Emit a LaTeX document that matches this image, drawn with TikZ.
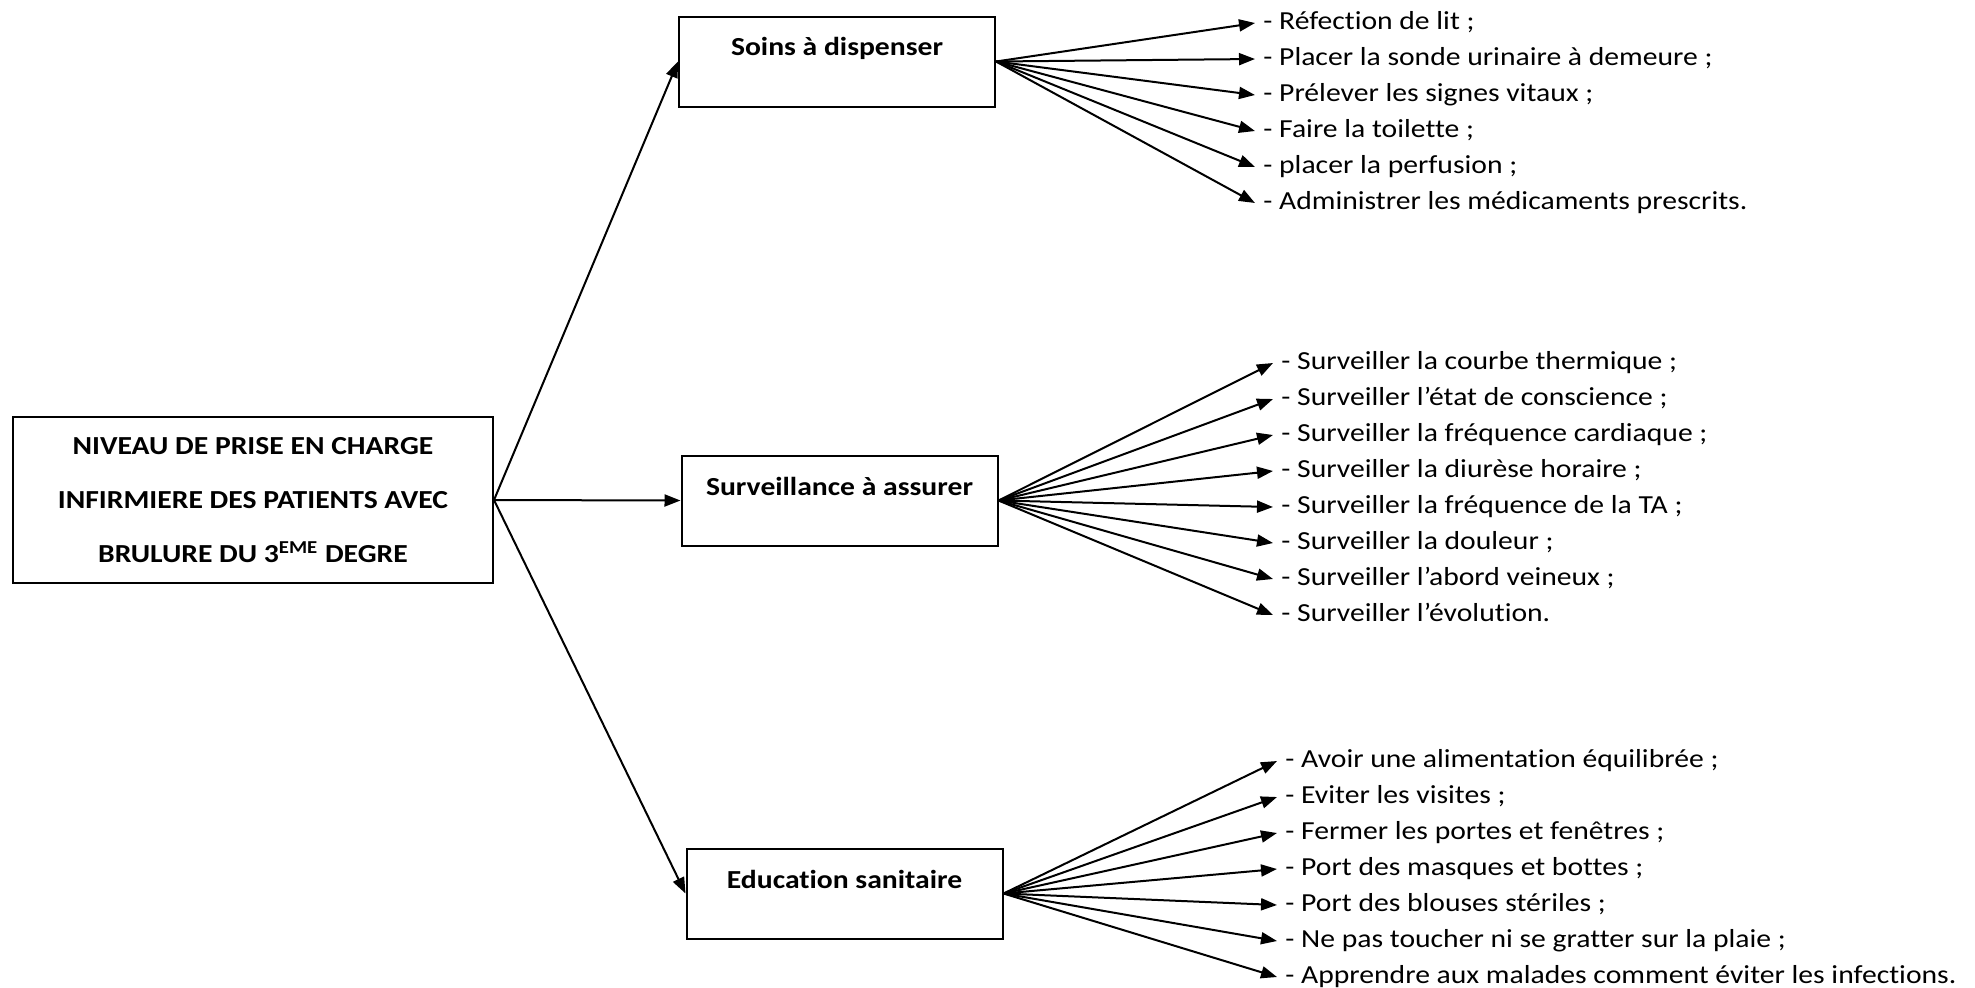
\documentclass[tikz,border=0pt]{standalone}
\usepackage{fontspec}
\setmainfont{Carlito}[FakeStretch=1.14, Ligatures=NoCommon]
\usetikzlibrary{arrows.meta,calc}

\begin{document}
\begin{tikzpicture}[x=0.5pt,y=-0.5pt,
	box/.style={draw, line width=1pt, inner sep=0pt},
	catbox/.style={box, minimum width=158pt, minimum height=45pt},
	head/.style={font=\fontsize{13}{16}\selectfont\bfseries},
	item/.style={anchor=west, inner xsep=4pt, inner ysep=0pt, text height=9pt, text depth=3pt, font=\fontsize{13}{16}\selectfont},
	link/.style={line width=1pt, -{Triangle[length=8pt,width=6pt]}}]
	\useasboundingbox (0,0) rectangle (1975,987);

	% main box
	\node[box, align=center, minimum width=240pt, minimum height=83pt, font=\fontsize{13}{27}\selectfont\bfseries] (root) at (253,500)
		{NIVEAU DE PRISE EN CHARGE\\INFIRMIERE DES PATIENTS AVEC\\BRULURE DU 3\textsuperscript{EME} DEGRE};

	% categories
	\node[catbox] (soins) at (837,61.5) {};
	\node[head] (soinsT) at ($(soins.north)+(0,33)$) {Soins à dispenser};
	\node[catbox] (surv) at (839.5,500.5) {};
	\node[head] (survT) at ($(surv.north)+(0,32)$) {Surveillance à assurer};
	\node[catbox] (edu) at (844.5,893.5) {};
	\node[head] (eduT) at ($(edu.north)+(0,32)$) {Education sanitaire};

	\draw[link] (root.east) -- (soins.west);
	\draw[link] (root.east) -- (surv.west);
	\draw[link] (root.east) -- (edu.west);

	% soins
	\foreach \t [count=\i] in {- Réfection de lit ;, - Placer la sonde urinaire à demeure ;, - Prélever les signes vitaux ;, - Faire la toilette ;, - placer la perfusion ;, - Administrer les médicaments prescrits.}{
		\node[item] (s\i) at (1255,{23+36*(\i-1)}) {\t};
		\draw[link] (soins.east) -- (s\i.west);
	}

	% surveillance
	\foreach \t [count=\i] in {- Surveiller la courbe thermique ;, - Surveiller l’état de conscience ;, - Surveiller la fréquence cardiaque ;, - Surveiller la diurèse horaire ;, - Surveiller la fréquence de la TA ;, - Surveiller la douleur ;, - Surveiller l’abord veineux ;, - Surveiller l’évolution.}{
		\node[item] (v\i) at (1273,{363+36*(\i-1)}) {\t};
		\draw[link] (surv.east) -- (v\i.west);
	}

	% education
	\foreach \t [count=\i] in {- Avoir une alimentation équilibrée ;, - Eviter les visites ;, - Fermer les portes et fenêtres ;, - Port des masques et bottes ;, - Port des blouses stériles ;, - Ne pas toucher ni se gratter sur la plaie ;, - Apprendre aux malades comment éviter les infections.}{
		\node[item] (e\i) at (1277,{761+36*(\i-1)}) {\t};
		\draw[link] (edu.east) -- (e\i.west);
	}
\end{tikzpicture}
\end{document}
